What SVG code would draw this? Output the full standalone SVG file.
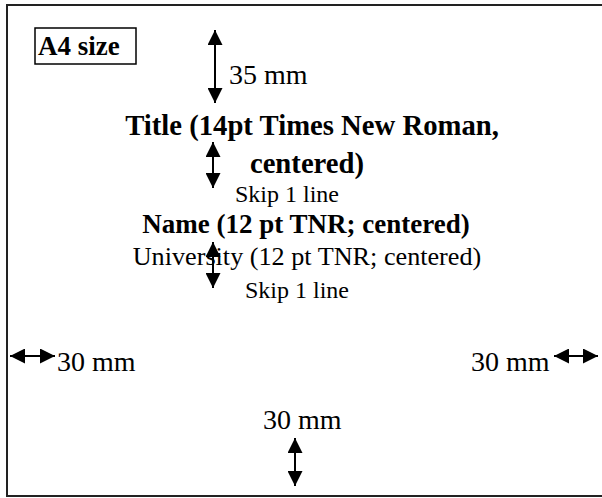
<svg xmlns="http://www.w3.org/2000/svg" width="602" height="498" viewBox="0 0 602 498">
<style>
.t{font-family:"Liberation Serif","Times New Roman",serif;fill:#000}
.b{font-weight:bold}
.ln{stroke:#000;stroke-width:2;fill:none}
</style>
<defs>
<marker id="ah" viewBox="0 0 10 10" refX="10" refY="5" markerWidth="7" markerHeight="7" orient="auto-start-reverse" markerUnits="userSpaceOnUse">
<path d="M0,0 L10,5 L0,10 Z" fill="#000"/>
</marker>
<marker id="ahv" viewBox="0 0 10 10" refX="10" refY="5" markerWidth="15" markerHeight="15" orient="auto-start-reverse" markerUnits="userSpaceOnUse">
<path d="M0,0 L10,5 L0,10 Z" fill="#000"/>
</marker>
</defs>
<rect x="7" y="5" width="600" height="491" fill="#fff" stroke="#222" stroke-width="2"/>
<g id="a4">
<rect x="35" y="28" width="101" height="36" fill="none" stroke="#000" stroke-width="1.5"/>
<text class="t b" x="38" y="55" font-size="27">A4 size</text>
</g>
<g id="title">
<text class="t b" x="312" y="135" font-size="28.7" text-anchor="middle">Title (14pt Times New Roman,</text>
<text class="t b" x="307" y="173" font-size="28.7" text-anchor="middle">centered)</text>
</g>
<g id="skip1"><text class="t" x="287" y="202" font-size="24" text-anchor="middle">Skip 1 line</text></g>
<g id="name"><text class="t b" x="306" y="233" font-size="27" text-anchor="middle">Name (12 pt TNR; centered)</text></g>
<g id="univ"><text class="t" x="307" y="265" font-size="26.2" text-anchor="middle">University (12 pt TNR; centered)</text></g>
<g id="skip2"><text class="t" x="297" y="298" font-size="24" text-anchor="middle">Skip 1 line</text></g>
<g id="top-margin"><text class="t" x="229" y="84" font-size="28">35 mm</text></g>
<g id="left-margin"><text class="t" x="57" y="371" font-size="28">30 mm</text></g>
<g id="right-margin"><text class="t" x="471" y="371" font-size="28">30 mm</text></g>
<g id="bottom-margin"><text class="t" x="263" y="429" font-size="28">30 mm</text></g>
<g id="connectors">
<line class="ln" x1="215" y1="30" x2="215" y2="103" marker-start="url(#ahv)" marker-end="url(#ahv)"/>
<line class="ln" x1="213" y1="142" x2="213" y2="188" marker-start="url(#ahv)" marker-end="url(#ahv)"/>
<line class="ln" x1="213" y1="242" x2="213" y2="288" marker-start="url(#ahv)" marker-end="url(#ahv)"/>
<line class="ln" x1="295" y1="438" x2="295" y2="486" marker-start="url(#ahv)" marker-end="url(#ahv)"/>
<line class="ln" x1="10" y1="356" x2="55" y2="356" marker-start="url(#ahv)" marker-end="url(#ahv)"/>
<line class="ln" x1="554" y1="356" x2="598" y2="356" marker-start="url(#ahv)" marker-end="url(#ahv)"/>
</g>
</svg>
